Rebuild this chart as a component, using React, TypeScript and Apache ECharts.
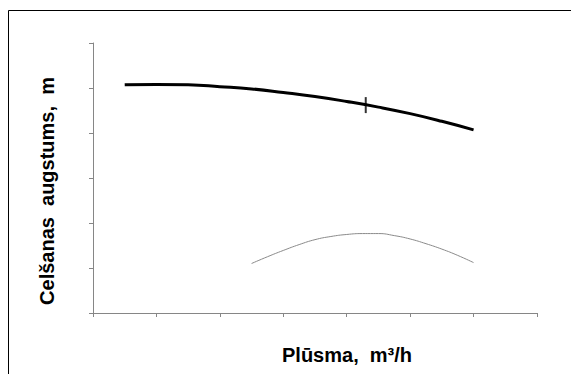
import React, { useEffect, useRef } from "react";
import * as echarts from "echarts";

const headCurve: [number, number][] = [
  [0.5, 5.07], [1.0, 5.08], [1.5, 5.07], [2.0, 5.03], [2.5, 4.98], [3.0, 4.9],
  [3.5, 4.81], [4.0, 4.7], [4.5, 4.575], [5.0, 4.43], [5.5, 4.26], [6.0, 4.07],
];
const efficiencyCurve: [number, number][] = [
  [2.5, 1.1], [2.75, 1.25], [3.0, 1.39], [3.25, 1.52], [3.5, 1.63], [3.75, 1.7],
  [4.0, 1.745], [4.25, 1.765], [4.5, 1.765], [4.75, 1.72], [5.0, 1.645], [5.25, 1.54],
  [5.5, 1.42], [5.75, 1.28], [6.0, 1.12],
];
const operatingPoint: [number, number][] = [[4.3, 4.62]];
const xTitle = "Plūsma,  m³/h";
const yTitle = "Celšanas  augstums,  m";

export default function App() {
  const ref = useRef<HTMLDivElement>(null);
  useEffect(() => {
    if (!ref.current) return;
    const chart = echarts.init(ref.current, null, { renderer: "svg" });
    const axisStyle = { lineStyle: { color: "#868686", width: 1 } };
    chart.setOption({
      animation: false,
      backgroundColor: "#fff",
      grid: { left: 93, right: 34, top: 43, bottom: 61 },
      xAxis: {
        type: "value", min: 0, max: 7, interval: 1,
        axisLine: { show: true, ...axisStyle },
        axisTick: { show: true, length: 4, ...axisStyle },
        axisLabel: { show: false },
        splitLine: { show: false },
      },
      yAxis: {
        type: "value", min: 0, max: 6, interval: 1,
        axisLine: { show: true, ...axisStyle },
        axisTick: { show: true, length: 4, ...axisStyle },
        axisLabel: { show: false },
        splitLine: { show: false },
      },
      series: [
        {
          type: "line", data: headCurve, smooth: 0.5, symbol: "none",
          lineStyle: { color: "#000", width: 3 },
        },
        {
          type: "line", data: efficiencyCurve, smooth: 0.5, symbol: "none",
          lineStyle: { color: "#8a8a8a", width: 1 },
        },
        {
          type: "scatter", data: operatingPoint, symbol: "rect", symbolSize: [2, 16],
          itemStyle: { color: "#000" },
        },
      ],
      graphic: [
        {
          type: "rect", shape: { x: 8.5, y: 10.5, width: 700, height: 500 },
          style: { fill: "none", stroke: "#000", lineWidth: 1 }, silent: true,
        },
        {
          type: "text", x: 347, y: 355,
          style: {
            text: xTitle, fontFamily: "Liberation Sans, Arial, sans-serif", fontWeight: "bold",
            fontSize: 20, fill: "#000", align: "center", verticalAlign: "middle",
          },
        },
        {
          type: "text", x: 47, y: 191, rotation: Math.PI / 2,
          style: {
            text: yTitle, fontFamily: "Liberation Sans, Arial, sans-serif", fontWeight: "bold",
            fontSize: 20, fill: "#000", align: "center", verticalAlign: "middle",
          },
        },
      ],
    });
    return () => chart.dispose();
  }, []);
  return (
    <div
      ref={ref}
      style={{ position: "absolute", left: 0, top: 0, width: 571, height: 374 }}
    />
  );
}
